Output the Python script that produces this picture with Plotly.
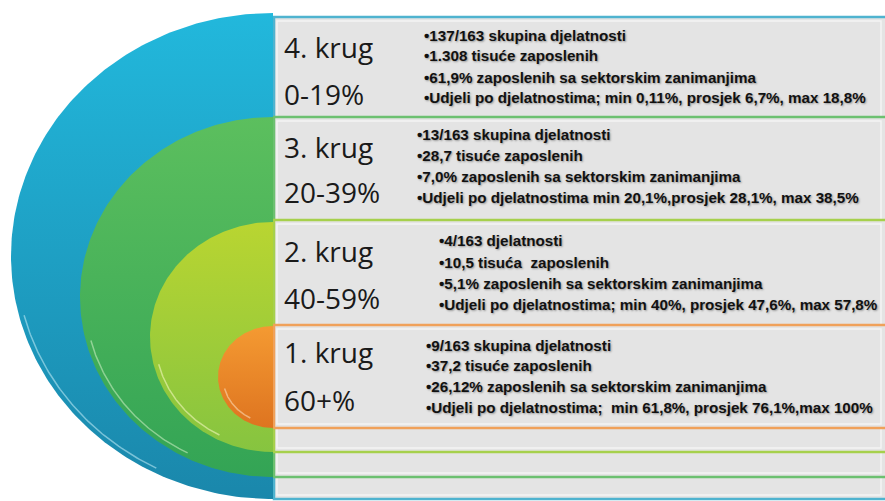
import numpy as np
import plotly.graph_objects as go

# ---- data ----
rings = ["4. krug", "3. krug", "2. krug", "1. krug"]
ranges = ["0-19%", "20-39%", "40-59%", "60+%"]
bullets = [
    ["•137/163 skupina djelatnosti",
     "•1.308 tisuće zaposlenih",
     "•61,9% zaposlenih sa sektorskim zanimanjima",
     "•Udjeli po djelatnostima; min 0,11%, prosjek 6,7%, max 18,8%"],
    ["•13/163 skupina djelatnosti",
     "•28,7 tisuće zaposlenih",
     "•7,0% zaposlenih sa sektorskim zanimanjima",
     "•Udjeli po djelatnostima min 20,1%,prosjek 28,1%, max 38,5%"],
    ["•4/163 djelatnosti",
     "•10,5 tisuća  zaposlenih",
     "•5,1% zaposlenih sa sektorskim zanimanjima",
     "•Udjeli po djelatnostima; min 40%, prosjek 47,6%, max 57,8%"],
    ["•9/163 skupina djelatnosti",
     "•37,2 tisuće zaposlenih",
     "•26,12% zaposlenih sa sektorskim zanimanjima",
     "•Udjeli po djelatnostima;  min 61,8%, prosjek 76,1%,max 100%"],
]

# ---- layout / style (pixel space) ----
W, H = 885, 501
CX = 273
ell = [  # cy, rx, ry
    (256, 262, 243),
    (297, 193, 180),
    (337, 123, 115),
    (377, 55, 51),
]
grad = [("#22b8dc", "#1a87ab"), ("#5cbf5e", "#33a455"),
        ("#b9d531", "#86c440"), ("#f49a32", "#de7420")]
hilite = ["#c8f0fa", "#d2f2c8", "#fbfcc8", "#ffe2c0"]
box_y = [(17, 499), (117, 477), (220, 452), (325, 428)]
box_border = ["#4fb3cf", "#6cc070", "#a6d04c", "#f0a15a"]
label_y = [(47, 94), (147, 192), (251, 298), (352, 400)]
bullet_x = [422, 415, 437, 424]
bullet_y = [(35, 55, 77, 97), (134, 155, 176, 197), (240, 262, 283, 304), (345, 365, 386, 407)]

fig = go.Figure()

# boxes (outer first)
for i, (y0, y1) in enumerate(box_y):
    fig.add_shape(type="rect", x0=CX + 1, x1=W + 10, y0=y0, y1=y1,
                  line=dict(color=box_border[i], width=2.5),
                  fillcolor="#e4e4e4", layer="below")
    fig.add_shape(type="rect", x0=CX + 4, x1=W - 4, y0=y0 + 4, y1=y1 - 4,
                  line=dict(color="#f4f4f4", width=1.5),
                  fillcolor="rgba(0,0,0,0)", layer="below")

# half ellipses
for i, (cy, rx, ry) in enumerate(ell):
    t = np.linspace(np.pi / 2, 3 * np.pi / 2, 181)
    xs = CX + rx * np.cos(t)
    ys = cy - ry * np.sin(t)
    xs = np.concatenate([xs, [CX, CX]])
    ys = np.concatenate([ys, [ys[-1], ys[0]]])
    fig.add_trace(go.Scatter(
        x=xs, y=ys, mode="lines", fill="toself", line=dict(width=0, color=grad[i][1]),
        fillgradient=dict(type="vertical", colorscale=[[0, grad[i][1]], [1, grad[i][0]]]),
        hoverinfo="skip", showlegend=False))
    # glossy rim highlight
    t2 = np.linspace(np.pi * 1.08, np.pi * 1.35, 80)
    fig.add_trace(go.Scatter(
        x=CX + (rx - 5) * np.cos(t2), y=cy - (ry - 5) * np.sin(t2), mode="lines",
        line=dict(color=hilite[i], width=1.5), opacity=0.55,
        hoverinfo="skip", showlegend=False))

big_font = dict(family="Open Sans, Lato, sans-serif", size=28, color="#1a1a1a")
small_font = dict(family="Liberation Sans, Arial, sans-serif",
                  size=15.2, color="#111111", weight="bold",
                  shadow="1px 1px 2px rgba(0,0,0,0.35)")

for i in range(4):
    fig.add_annotation(x=282, y=label_y[i][0], text=rings[i], showarrow=False,
                       xanchor="left", yanchor="middle", font=big_font)
    fig.add_annotation(x=282, y=label_y[i][1], text=ranges[i], showarrow=False,
                       xanchor="left", yanchor="middle", font=big_font)
    for j, txt in enumerate(bullets[i]):
        fig.add_annotation(x=bullet_x[i], y=bullet_y[i][j], text=txt, showarrow=False,
                           xanchor="left", yanchor="middle", font=small_font)

fig.update_layout(
    width=W, height=H, margin=dict(l=0, r=0, t=0, b=0),
    paper_bgcolor="white", plot_bgcolor="white",
    xaxis=dict(range=[0, W], visible=False, fixedrange=True),
    yaxis=dict(range=[H, 0], visible=False, fixedrange=True),
)
fig.write_html("out.html", config={"displayModeBar": False},
               post_script="document.body.style.margin='0';document.body.style.overflow='hidden';")
